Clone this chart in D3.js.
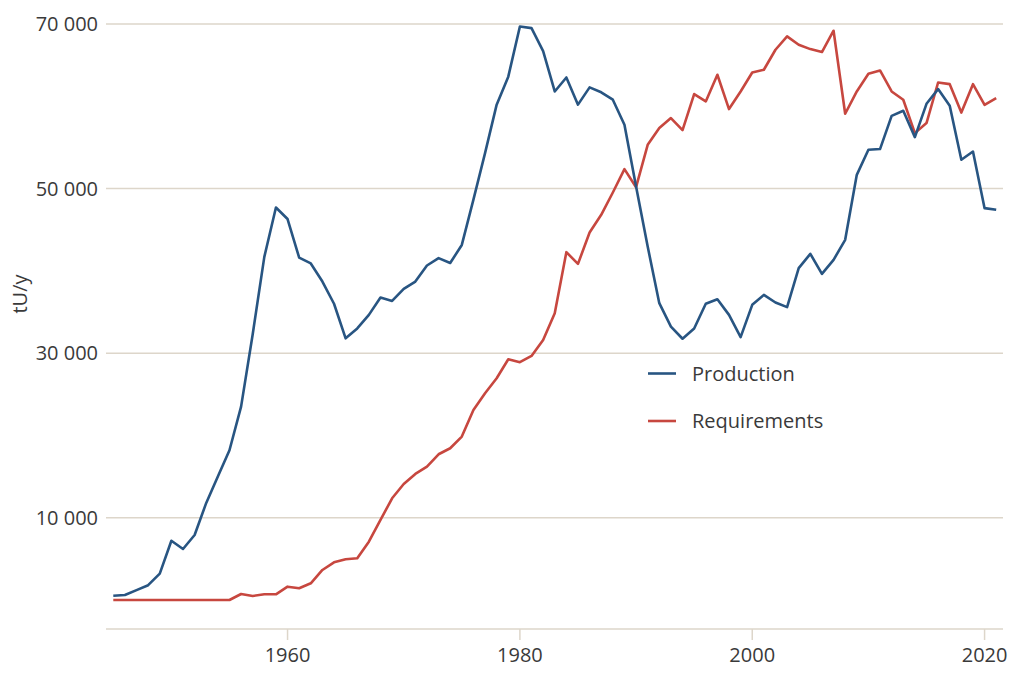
<!DOCTYPE html>
<html>
<head>
<meta charset="utf-8">
<script src="https://cdn.jsdelivr.net/npm/d3@7"></script>
<style>
  html, body { margin: 0; padding: 0; background: #fff; }
  svg { display: block; font-family: "Open Sans", sans-serif; }
</style>
</head>
<body>
<svg id="chart" width="1029" height="679"></svg>
<script>
const years = d3.range(1945, 2022);

// tonnes of uranium per year
const production = [
  520, 600, 1200, 1800, 3200, 7200, 6200, 7900, 11800, 15000,
  18200, 23500, 32300, 41700, 47700, 46300, 41600, 40900, 38700, 36000,
  31800, 33000, 34650, 36750, 36350, 37800, 38700, 40650, 41550, 40950,
  43150, 48650, 54300, 60200, 63600, 69700, 69500, 66700, 61800, 63500,
  60200, 62300, 61700, 60800, 57750, 50250, 42950, 36070, 33230, 31750,
  33000, 36000, 36550, 34650, 31950, 35870, 37080, 36150, 35590, 40330,
  42070, 39640, 41340, 43770, 51670, 54710, 54800, 58840, 59450, 56250,
  60300, 62090, 60060, 53500, 54500, 47620, 47420
];

const requirements = [
  0, 0, 0, 0, 0, 0, 0, 0, 0, 0,
  0, 730, 490, 690, 690, 1620, 1420, 2030, 3650, 4580,
  4950, 5070, 7090, 9730, 12360, 14100, 15320, 16210, 17710, 18440,
  19860, 23100, 25130, 26950, 29260, 28900, 29660, 31600, 34860, 42270,
  40850, 44660, 46810, 49520, 52360, 50170, 55320, 57350, 58570, 57100,
  61480, 60590, 63830, 59660, 61800, 64110, 64440, 66870, 68490, 67480,
  66950, 66590, 69180, 59090, 61800, 63950, 64350, 61800, 60790, 56740,
  57960, 62890, 62690, 59240, 62690, 60180, 61000
];

const yTicks = [10000, 30000, 50000, 70000];
const xTicks = [1960, 1980, 2000, 2020];
const seriesNames = ['Production', 'Requirements'];
const seriesColors = ['#285582', '#c7473f'];

const svg = d3.select('#chart');
const textColor = '#3a3a3a';
const gridColor = '#ddd6ca';
const fontSize = '20px';

const plotLeft = 106, plotRight = 1003, axisY = 629;

const x = d3.scaleLinear().domain([1945, 2021]).range([113.3, 996.2]);
const y = d3.scaleLinear().domain([0, 70000]).range([600, 24]);

const fmt = v => d3.format(',')(v).replace(/,/g, ' ');

// horizontal grid + y labels
const yAxis = svg.append('g');
yAxis.selectAll('line')
  .data(yTicks)
  .enter()
  .append('line')
  .attr('x1', plotLeft)
  .attr('x2', plotRight)
  .attr('y1', d => y(d))
  .attr('y2', d => y(d))
  .attr('stroke', gridColor)
  .attr('stroke-width', 1.5);

yAxis.selectAll('text')
  .data(yTicks)
  .enter()
  .append('text')
  .attr('x', 98)
  .attr('y', d => y(d))
  .attr('dy', '0.36em')
  .attr('text-anchor', 'end')
  .style('font-size', fontSize)
  .style('fill', textColor)
  .text(fmt);

// bottom axis line + ticks
svg.append('line')
  .attr('x1', plotLeft)
  .attr('x2', plotRight)
  .attr('y1', axisY)
  .attr('y2', axisY)
  .attr('stroke', gridColor)
  .attr('stroke-width', 1.5);

const xAxis = svg.append('g');
xAxis.selectAll('line')
  .data(xTicks)
  .enter()
  .append('line')
  .attr('x1', d => x(d))
  .attr('x2', d => x(d))
  .attr('y1', axisY)
  .attr('y2', axisY + 11)
  .attr('stroke', gridColor)
  .attr('stroke-width', 1.5);

xAxis.selectAll('text')
  .data(xTicks)
  .enter()
  .append('text')
  .attr('x', d => x(d))
  .attr('y', 662)
  .attr('text-anchor', 'middle')
  .style('font-size', fontSize)
  .style('fill', textColor)
  .text(d => d);

// y axis title
svg.append('text')
  .attr('transform', 'translate(27,294) rotate(-90)')
  .attr('text-anchor', 'middle')
  .style('font-size', fontSize)
  .style('fill', textColor)
  .text('tU/y');

// lines
const line = d3.line()
  .x((d, i) => x(years[i]))
  .y(d => y(d));

[requirements, production].forEach((series, k) => {
  svg.append('path')
    .datum(series)
    .attr('fill', 'none')
    .attr('stroke', seriesColors[1 - k])
    .attr('stroke-width', 2.6)
    .attr('stroke-linejoin', 'round')
    .attr('d', line);
});

// legend
const legend = svg.append('g');
seriesNames.forEach((name, i) => {
  const ly = 373.5 + i * 47.5;
  legend.append('line')
    .attr('x1', 648)
    .attr('x2', 676)
    .attr('y1', ly)
    .attr('y2', ly)
    .attr('stroke', seriesColors[i])
    .attr('stroke-width', 2.6);
  legend.append('text')
    .attr('x', 692)
    .attr('y', ly)
    .attr('dy', '0.36em')
    .style('font-size', fontSize)
    .style('fill', textColor)
    .text(name);
});
</script>
</body>
</html>
